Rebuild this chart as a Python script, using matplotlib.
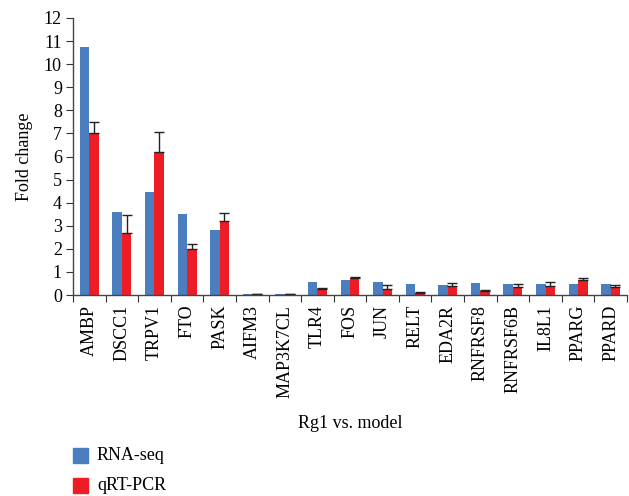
import matplotlib
matplotlib.use("Agg")
import matplotlib.pyplot as plt
import matplotlib.patches as mpatches
import numpy as np

genes = ["AMBP", "DSCC1", "TRPV1", "FTO", "PASK", "AIFM3", "MAP3K7CL", "TLR4", "FOS",
         "JUN", "RELT", "EDA2R", "RNFRSF8", "RNFRSF6B", "IL8L1", "PPARG", "PPARD"]
rna_seq = [10.75, 3.6, 4.45, 3.5, 2.83, 0.05, 0.05, 0.55, 0.66, 0.58, 0.48, 0.43, 0.52, 0.48, 0.48, 0.48, 0.48]
qrt_pcr = [7.0, 2.67, 6.2, 1.98, 3.2, 0.05, 0.04, 0.25, 0.72, 0.28, 0.1, 0.4, 0.18, 0.36, 0.4, 0.66, 0.35]
qrt_err = [0.5, 0.78, 0.88, 0.25, 0.37, 0.0, 0.0, 0.05, 0.08, 0.15, 0.03, 0.14, 0.03, 0.12, 0.15, 0.07, 0.1]
yticks = list(range(0, 13))
series_names = ["RNA-seq", "qRT-PCR"]

FAM = ['Liberation Serif', 'DejaVu Serif']
plt.rcParams['font.family'] = FAM
plt.rcParams['font.serif'] = FAM

fig = plt.figure(figsize=(6.29, 4.96), dpi=100)
ax = fig.add_axes([73/629, 1 - 295/496, (627 - 73)/629, (295 - 18)/496])

x = np.arange(len(genes))
w = 0.29
blue = "#4A7EBF"
red = "#EE1C25"
ax.bar(x - w/2, rna_seq, width=w, color=blue)
ax.bar(x + w/2, qrt_pcr, width=w, color=red)
ax.errorbar(x + w/2, qrt_pcr, yerr=[np.zeros(len(qrt_err)), qrt_err], fmt='none',
            ecolor='#222222', elinewidth=1.0, capsize=3.5, capthick=1.0)

ax.set_xlim(-0.5, len(genes) - 0.5)
ax.set_ylim(0, 12)
ax.set_yticks(yticks)
ax.set_yticklabels([str(t) for t in yticks], fontsize=13, family=FAM)

ax.set_xticks(np.arange(len(genes) + 1) - 0.5)
ax.set_xticklabels([])
ax.set_xticks(x, minor=True)
ax.set_xticklabels(genes, minor=True, rotation=90, fontsize=13, family=FAM)
ax.tick_params(axis='x', which='minor', length=0, pad=7)
ax.tick_params(axis='x', which='major', length=5, direction='out', color='#333333')
ax.tick_params(axis='y', length=5, direction='out', color='#333333', pad=3)

for s in ['top', 'right']:
    ax.spines[s].set_visible(False)
for s in ['left', 'bottom']:
    ax.spines[s].set_color('#444444')
    ax.spines[s].set_linewidth(1.0)

ax.set_ylabel("Fold change", fontsize=13, labelpad=8, family=FAM)
fig.text(350/629, 1 - 423/496, "Rg1 vs. model", fontsize=13, ha='center', va='center', family=FAM)

# legend (drawn manually for exact placement)
for i, (name, col) in enumerate(zip(series_names, [blue, red])):
    top = 448 + i * 30
    fig.add_artist(mpatches.Rectangle((73/629, 1 - (top + 15)/496), 15/629, 15/496,
                                      transform=fig.transFigure, color=col))
    fig.text(97/629, 1 - (top + 8)/496, name, fontsize=13, ha='left', va='center', family=FAM)

fig.savefig("out.png", dpi=100)
